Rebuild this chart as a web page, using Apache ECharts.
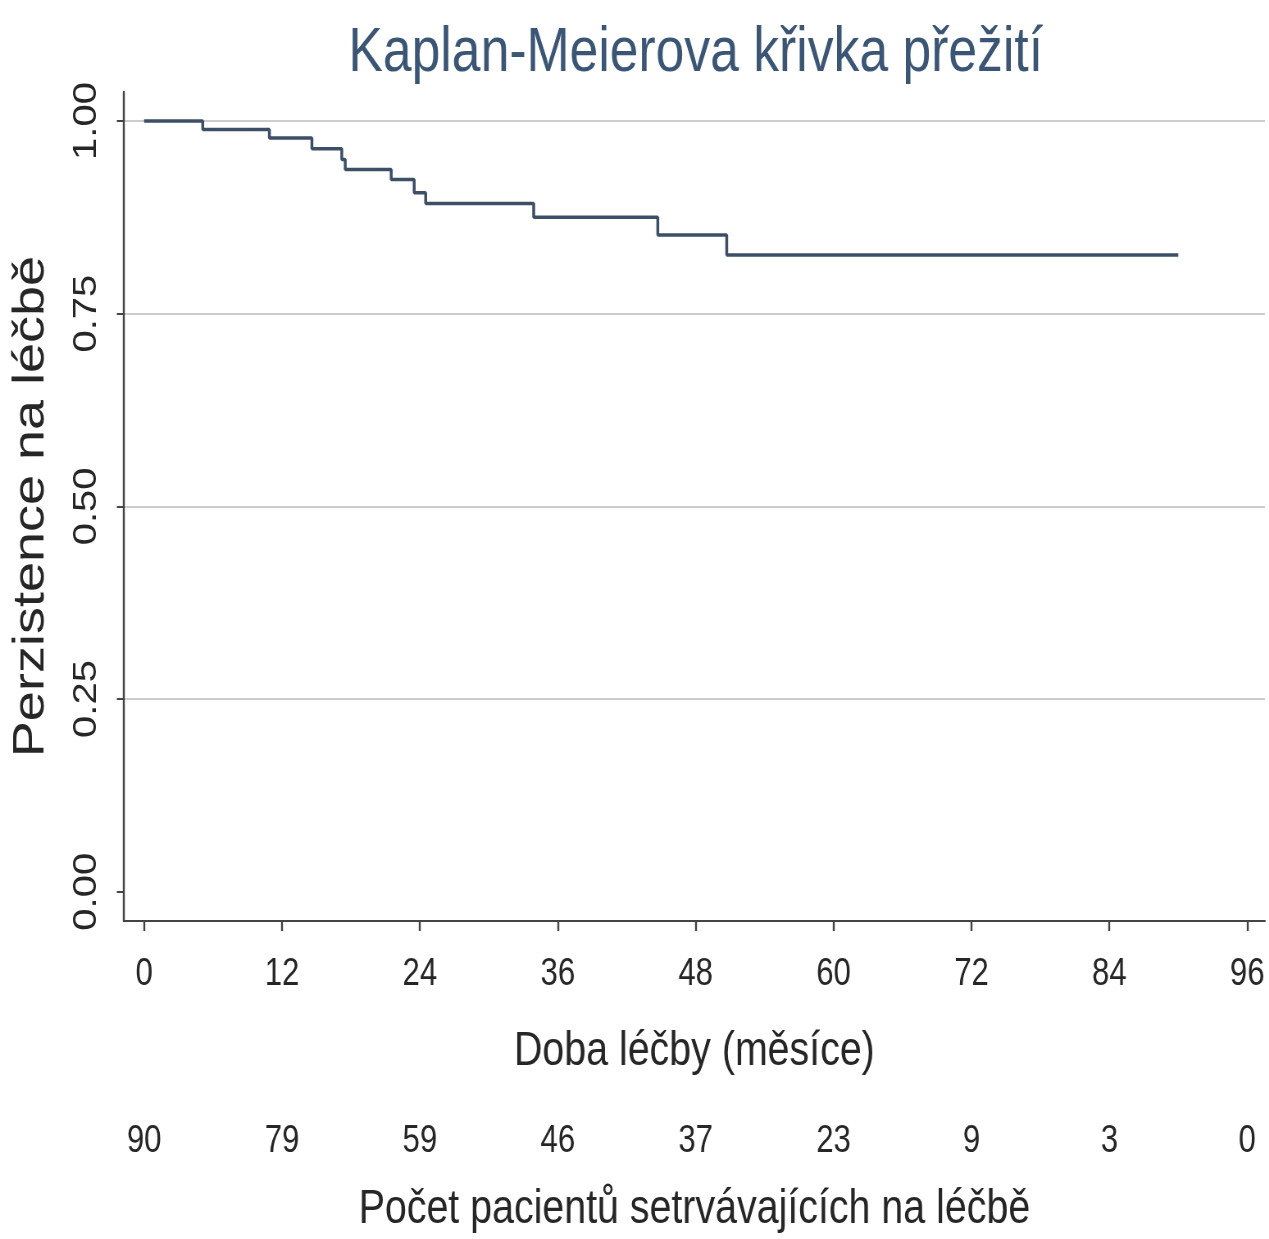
<!DOCTYPE html>
<html>
<head>
<meta charset="utf-8">
<title>Kaplan-Meierova křivka přežití</title>
<script src="https://cdn.jsdelivr.net/npm/echarts@6/dist/echarts.min.js"></script>
<style>
  html, body { margin: 0; padding: 0; background: #ffffff; overflow: hidden; }
  /* The figure is laid out on a wider canvas and condensed horizontally. */
  #chart { width: 1548px; height: 1239px; transform: scaleX(0.8198); transform-origin: 0 0; }
</style>
</head>
<body>
<div id="chart"></div>
<script>
// Kaplan-Meier estimate: event times (months) and persistence after each step
const eventTimes = [0, 5.1, 10.9, 14.6, 17.2, 17.5, 21.5, 23.5, 24.5, 33.9, 44.7, 50.7, 90.0];
const persistence = [1.0, 0.989, 0.978, 0.964, 0.950, 0.937, 0.924, 0.907, 0.893, 0.875, 0.852, 0.826, 0.826];

// Axis ticks
const monthTicks = [0, 12, 24, 36, 48, 60, 72, 84, 96];
const persistenceTicks = [0, 0.25, 0.5, 0.75, 1.0];

// Number of patients still on treatment at each month tick
const atRisk = [90, 79, 59, 46, 37, 23, 9, 3, 0];

const font = "'Liberation Sans', Arial, sans-serif";
const textColor = '#262626';
const axisColor = '#444444';

const X_MIN = -1.77, X_MAX = 97.54;
const Y_MIN = -0.038, Y_MAX = 1.0376;

const chart = echarts.init(document.getElementById('chart'), null, {
  renderer: 'canvas', width: 1548, height: 1239
});

chart.setOption({
  backgroundColor: '#ffffff',
  animation: false,
  title: {
    text: 'Kaplan-Meierova křivka přežití',
    left: 420,
    top: 17,
    textStyle: { fontFamily: font, fontSize: 63, fontWeight: 'normal', color: '#3b5675' }
  },
  grid: { left: 151, right: 5, top: 92, bottom: 317, containLabel: false },
  xAxis: [
    {
      type: 'value',
      min: X_MIN,
      max: X_MAX,
      name: 'Doba léčby (měsíce)',
      nameLocation: 'middle',
      nameGap: 107,
      nameTextStyle: { fontFamily: font, fontSize: 48, color: textColor },
      axisLine: { show: true, onZero: false, lineStyle: { color: axisColor, width: 2 } },
      axisTick: { show: true, length: 10, customValues: monthTicks, lineStyle: { color: axisColor, width: 2.4 } },
      axisLabel: {
        customValues: monthTicks, margin: 35,
        fontFamily: font, fontSize: 38, color: textColor
      },
      splitLine: { show: false }
    },
    {
      // patients-at-risk row under the time axis
      type: 'value',
      min: X_MIN,
      max: X_MAX,
      position: 'bottom',
      offset: 202,
      name: 'Počet pacientů setrvávajících na léčbě',
      nameLocation: 'middle',
      nameGap: 63,
      nameTextStyle: { fontFamily: font, fontSize: 48, color: textColor },
      axisLine: { show: false },
      axisTick: { show: false },
      axisLabel: {
        customValues: monthTicks, margin: 0,
        fontFamily: font, fontSize: 38, color: textColor,
        formatter: v => String(atRisk[monthTicks.indexOf(v)])
      },
      splitLine: { show: false }
    }
  ],
  yAxis: {
    type: 'value',
    min: Y_MIN,
    max: Y_MAX,
    name: 'Perzistence na léčbě',
    nameLocation: 'middle',
    nameGap: 86,
    nameTextStyle: { fontFamily: font, fontSize: 54, color: textColor },
    axisLine: { show: true, onZero: false, lineStyle: { color: axisColor, width: 2.4 } },
    axisTick: { show: true, length: 8.5, customValues: persistenceTicks, lineStyle: { color: axisColor, width: 2 } },
    axisLabel: {
      customValues: persistenceTicks, rotate: 90, margin: 25,
      fontFamily: font, fontSize: 40, color: textColor,
      formatter: v => v.toFixed(2)
    },
    splitLine: { show: true, showMinLine: false, lineStyle: { color: '#cccccc', width: 2 } }
  },
  series: [
    {
      type: 'line',
      xAxisIndex: 0,
      step: 'end',
      showSymbol: false,
      symbol: 'none',
      z: 5,
      lineStyle: { color: '#3d4f66', width: 3.5, cap: 'butt' },
      data: eventTimes.map((t, i) => [t, persistence[i]])
    }
  ]
});
</script>
</body>
</html>
